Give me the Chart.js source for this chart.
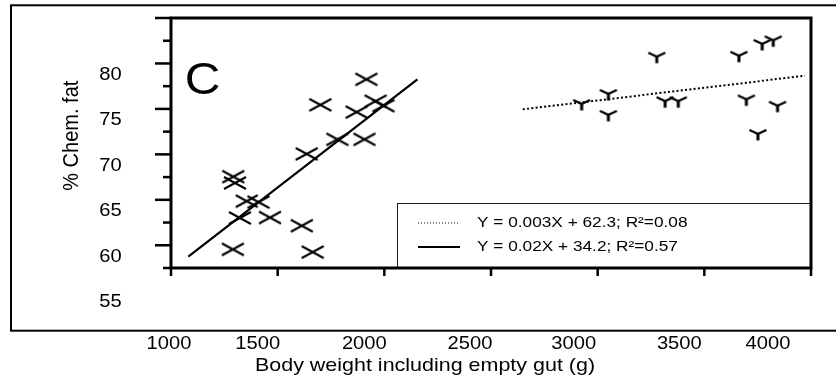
<!DOCTYPE html>
<html><head><meta charset="utf-8">
<script src="https://cdn.jsdelivr.net/npm/chart.js@4.4.1/dist/chart.umd.min.js"></script>
<style>html,body{margin:0;padding:0;background:#fff;}canvas{display:block;}</style>
</head><body>
<canvas id="c" width="836" height="384"></canvas>
<script>
// ---- data ----
const xTickLabels = [1000, 1500, 2000, 2500, 3000, 3500, 4000];
const yTickLabels = [55, 60, 65, 70, 75, 80];
const smallBodyX = [1292, 1300, 1355, 1410, 1323, 1464, 1613, 1290, 1664, 1636, 1916, 1700, 1959, 1870, 1996, 1780, 1907];
const smallBodyY = [68.8, 68.1, 66.1, 66.0, 64.25, 64.3, 63.4, 60.8, 60.5, 71.3, 79.5, 76.7, 77.1, 75.9, 76.6, 72.9, 72.9];
const largeBodyX = [3277, 3050, 2925, 3050, 3316, 3378, 3662, 3771, 3823, 3697, 3843, 3751];
const largeBodyY = [82.0, 77.9, 76.8, 75.6, 77.1, 77.1, 82.1, 83.4, 83.8, 77.3, 76.6, 73.5];
const solidFitX = [1081, 2155];
const solidFitY = [60.0, 79.5];
const dottedFitX = [2649, 3972];
const dottedFitY = [76.2, 79.9];
const legendLabels = ['Y = 0.003X + 62.3; R\u00B2=0.08', 'Y = 0.02X + 34.2; R\u00B2=0.57'];
const xTitle = 'Body weight including empty gut (g)';
const yTitle = '% Chem. fat';
const panelLabel = 'C';

// ---- styles ----
const FONT = '"Liberation Sans", Arial, sans-serif';
const xLabelShift = [-2, -20, -20, -21, -24, -25, -43];

function makeCross() {
  const c = document.createElement('canvas'); c.width = 26; c.height = 16;
  const g = c.getContext('2d'); g.strokeStyle = '#000'; g.lineWidth = 2;
  g.beginPath(); g.moveTo(2, 2); g.lineTo(24, 14); g.moveTo(2, 14); g.lineTo(24, 2); g.stroke();
  return c;
}
function makeTri() {
  const c = document.createElement('canvas'); c.width = 20; c.height = 20;
  const g = c.getContext('2d'); g.strokeStyle = '#000'; g.lineWidth = 2.3;
  g.beginPath(); g.moveTo(1.5, 6); g.lineTo(10, 10); g.lineTo(18.5, 6); g.stroke();
  g.lineWidth = 3; g.beginPath(); g.moveTo(10, 9); g.lineTo(10, 16.5); g.stroke();
  return c;
}
const pts = (xs, ys) => xs.map((x, i) => ({x: x, y: ys[i]}));

function txt(ctx, s, x, y, size, align, sx) {
  ctx.save(); ctx.translate(x, y); ctx.scale(sx, 1);
  ctx.font = size + 'px ' + FONT; ctx.textAlign = align; ctx.textBaseline = 'middle';
  ctx.fillStyle = '#000'; ctx.fillText(s, 0, 0); ctx.restore();
}

const decor = {
  id: 'decor',
  afterDraw(chart) {
    const ctx = chart.ctx, a = chart.chartArea, xs = chart.scales.x, ys = chart.scales.y;
    ctx.save();
    ctx.strokeStyle = '#000';
    // outer frame
    ctx.lineWidth = 2; ctx.strokeRect(11, 5.3, 840, 325.4);
    // legend box
    const lx = a.right - 414, ly = a.top + 185;
    ctx.lineWidth = 1; ctx.strokeStyle = '#222';
    ctx.strokeRect(lx + 0.5, ly + 0.5, a.right - lx, a.bottom - ly);
    ctx.strokeStyle = '#000';
    ctx.setLineDash([1, 2]); ctx.beginPath(); ctx.moveTo(lx + 21, ly + 20); ctx.lineTo(lx + 63, ly + 20); ctx.stroke();
    ctx.setLineDash([]); ctx.lineWidth = 2;
    ctx.beginPath(); ctx.moveTo(lx + 21, ly + 44); ctx.lineTo(lx + 63, ly + 44); ctx.stroke();
    txt(ctx, legendLabels[0], lx + 80, ly + 20, 15, 'left', 1.15);
    txt(ctx, legendLabels[1], lx + 80, ly + 44, 15, 'left', 1.15);
    // inner frame
    ctx.lineWidth = 3;
    ctx.strokeRect(a.left, a.top, a.right - a.left, a.bottom - a.top);
    // y tick marks
    ctx.lineWidth = 2.5;
    ys.ticks.forEach((t, i) => {
      const y = ys.getPixelForValue(t.value), len = (i % 2 === 1) ? 16 : 8;
      ctx.beginPath(); ctx.moveTo(a.left - len, y); ctx.lineTo(a.left, y); ctx.stroke();
    });
    xs.ticks.forEach(t => {
      const x = xs.getPixelForValue(t.value);
      ctx.beginPath(); ctx.moveTo(x, a.bottom); ctx.lineTo(x, a.bottom + 8); ctx.stroke();
    });
    // tick labels
    yTickLabels.forEach(v => txt(ctx, String(v), a.left - 60.5, ys.getPixelForValue(v), 18.5, 'center', 1.09));
    xTickLabels.forEach((v, i) => txt(ctx, String(v), xs.getPixelForValue(v) + xLabelShift[i], 343.7, 18.5, 'center', 1.09));
    // titles
    txt(ctx, xTitle, 425, 365.5, 19, 'center', 1.13);
    ctx.save(); ctx.translate(72, 135.7); ctx.rotate(-Math.PI / 2); ctx.scale(1, 1.1);
    ctx.font = '20px ' + FONT; ctx.textAlign = 'center'; ctx.textBaseline = 'middle'; ctx.fillStyle = '#000';
    ctx.fillText(yTitle, 0, 0); ctx.restore();
    // panel letter
    txt(ctx, panelLabel, a.left + 31.5, 82, 45, 'center', 1.1);
    ctx.restore();
  }
};

new Chart(document.getElementById('c'), {
  type: 'scatter',
  data: {
    datasets: [
      {label: 'small', data: pts(smallBodyX, smallBodyY), pointStyle: makeCross(), pointRadius: 8, showLine: false},
      {label: 'large', data: pts(largeBodyX, largeBodyY), pointStyle: makeTri(), pointRadius: 8, showLine: false},
      {type: 'line', label: legendLabels[1], data: pts(solidFitX, solidFitY), borderColor: '#000', borderWidth: 2.2, pointRadius: 0, fill: false},
      {type: 'line', label: legendLabels[0], data: pts(dottedFitX, dottedFitY), borderColor: '#000', borderWidth: 2, borderDash: [2, 2.3], pointRadius: 0, fill: false}
    ]
  },
  options: {
    responsive: false, animation: false, devicePixelRatio: 1, events: [],
    layout: {padding: {left: 171, top: 18, right: 25, bottom: 116}},
    plugins: {legend: {display: false}, tooltip: {enabled: false}},
    scales: {
      x: {type: 'linear', min: 1000, max: 4000, display: false, ticks: {stepSize: 500}},
      y: {type: 'linear', min: 58.75, max: 86.25, display: false, ticks: {stepSize: 2.5}}
    }
  },
  plugins: [decor]
});
</script>
</body></html>
